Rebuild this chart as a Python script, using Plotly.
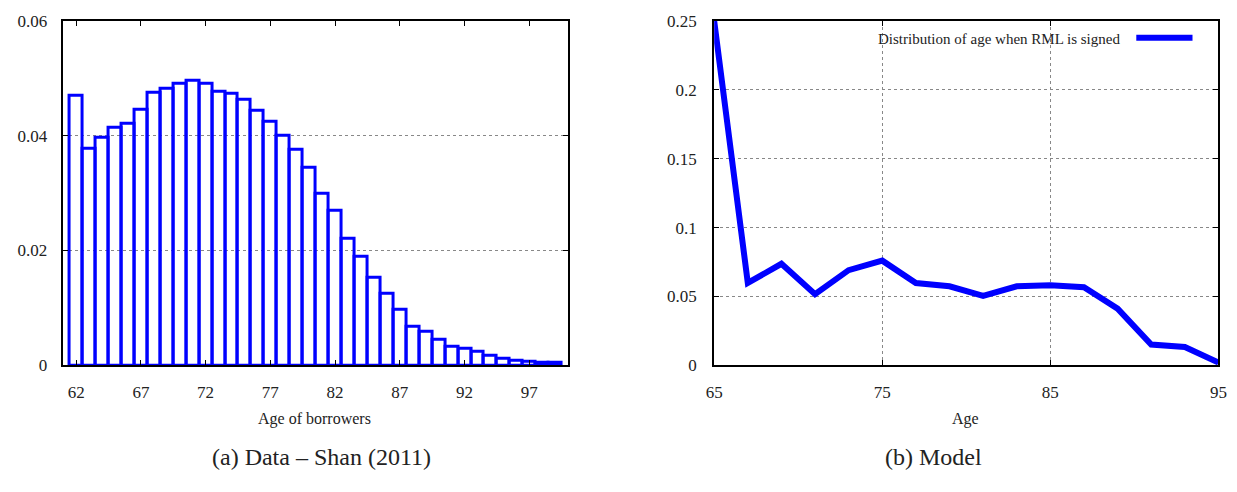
import plotly.graph_objects as go

# Panel (a): Data - Shan (2011)
ages_a = list(range(62, 100))
share_a = [0.0470, 0.0377, 0.0397, 0.0414, 0.0421, 0.0445, 0.0474, 0.0481, 0.0491, 0.0496,
           0.0491, 0.0476, 0.0473, 0.0463, 0.0444, 0.0425, 0.0400, 0.0375, 0.0344, 0.0299,
           0.0269, 0.0221, 0.0189, 0.0153, 0.0124, 0.0096, 0.0068, 0.0058, 0.0045, 0.0033,
           0.0028, 0.0023, 0.0017, 0.0012, 0.0008, 0.0007, 0.0004, 0.0004]
xticks_a = [62, 67, 72, 77, 82, 87, 92, 97]
yticks_a = [0, 0.02, 0.04, 0.06]

# Panel (b): Model
ages_b = [65, 67, 69, 71, 73, 75, 77, 79, 81, 83, 85, 87, 89, 91, 93, 95]
share_b = [0.250, 0.0598, 0.0737, 0.0516, 0.0691, 0.0760, 0.0598, 0.0574, 0.0505,
           0.0574, 0.0581, 0.0567, 0.0412, 0.0151, 0.0133, 0.0020]
xticks_b = [65, 75, 85, 95]
yticks_b = [0, 0.05, 0.1, 0.15, 0.2, 0.25]

BLUE = "#0000ff"
SERIF = "'Liberation Serif', 'Times New Roman', Times, 'DejaVu Serif', serif"
W, H = 1237, 492

fig = go.Figure()
fig.add_trace(go.Bar(x=ages_a, y=share_a, width=1, xaxis="x", yaxis="y",
                     marker=dict(color="rgba(255,255,255,0)", line=dict(color=BLUE, width=3)),
                     showlegend=False))
fig.add_trace(go.Scatter(x=ages_b, y=share_b, mode="lines", xaxis="x2", yaxis="y2",
                         name="Distribution of age when RML is signed",
                         line=dict(color=BLUE, width=6), showlegend=False))

def px_x(p):
    return p / W

def px_y(p):
    return 1 - p / H

ydom = [px_y(370.7), px_y(12.3)]
common = dict(showline=True, linecolor="black", linewidth=2, mirror="ticks",
              ticks="inside", ticklen=5, tickwidth=1, tickcolor="black",
              tickfont=dict(family=SERIF, size=17, color="#222222"), zeroline=False)

fig.update_layout(
    width=W, height=H, margin=dict(l=0, r=0, t=0, b=0),
    paper_bgcolor="white", plot_bgcolor="white", bargap=0,
    xaxis=dict(domain=[px_x(54.3), px_x(566.7)], range=[60.95, 99.98], anchor="y",
               tickvals=xticks_a, showgrid=False, ticklabelstandoff=10, **common),
    yaxis=dict(domain=ydom, range=[0, 0.06], anchor="x", tickvals=yticks_a,
               showgrid=True, gridcolor="#888888", griddash="dot", gridwidth=1,
               ticklabelstandoff=10, **common),
    xaxis2=dict(domain=[px_x(715), px_x(1226.3)], range=[65, 95], anchor="y2",
                tickvals=xticks_b, showgrid=True, gridcolor="#888888", griddash="dot",
                gridwidth=1, ticklabelstandoff=10, **common),
    yaxis2=dict(domain=ydom, range=[0, 0.25], anchor="x2", tickvals=yticks_b,
                showgrid=True, gridcolor="#888888", griddash="dot", gridwidth=1,
                ticklabelstandoff=12, **common),
)

annots = [
    dict(text="Age of borrowers", x=px_x(310), y=px_y(426), size=16),
    dict(text="Age", x=px_x(970), y=px_y(426), size=16),
    dict(text="(a) Data \u2013 Shan (2011)", x=px_x(317), y=px_y(466), size=24),
    dict(text="(b) Model", x=px_x(937), y=px_y(466), size=24),
]
for a in annots:
    fig.add_annotation(text=a["text"], x=a["x"], y=a["y"], xref="paper", yref="paper",
                       showarrow=False, xanchor="center", yanchor="middle",
                       font=dict(family=SERIF, size=a["size"], color="#222222"))

# legend (gnuplot style: text left, sample right)
fig.add_annotation(text="Distribution of age when RML is signed", x=px_x(1129), y=px_y(31),
                   xref="paper", yref="paper", showarrow=False, xanchor="right",
                   yanchor="middle", font=dict(family=SERIF, size=15, color="#222222"))
fig.add_shape(type="line", xref="paper", yref="paper", x0=px_x(1143), x1=px_x(1200),
              y0=px_y(30), y1=px_y(30), line=dict(color=BLUE, width=6))

fig.write_html("out.html")
